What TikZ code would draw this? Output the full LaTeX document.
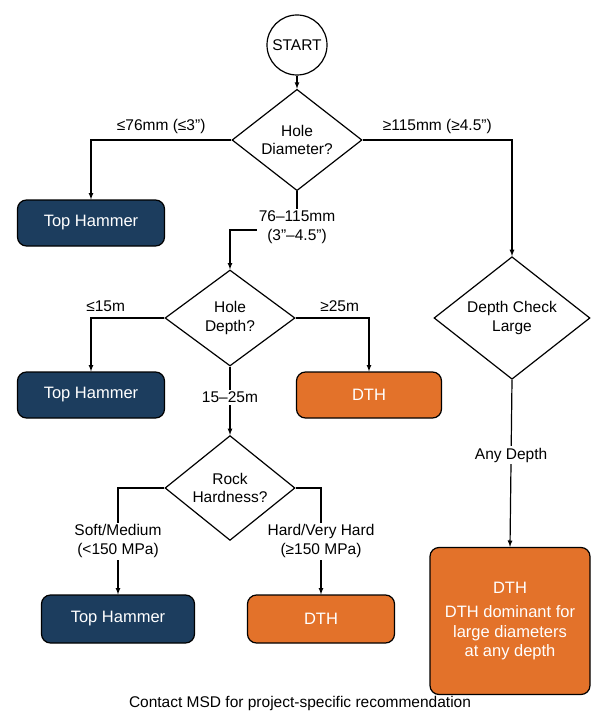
\documentclass[tikz,border=0pt]{standalone}
\usepackage{fontspec}
\setmainfont{Liberation Sans}
\usetikzlibrary{positioning,shapes.geometric}
\definecolor{navy}{HTML}{1C3D5E}
\definecolor{burnt}{HTML}{E3722A}
\tikzset{
  every node/.style={font=\fontsize{15.5}{18.5}\selectfont},
  dec/.style={diamond,draw,line width=1.2pt,inner sep=0pt,align=center},
  topbox/.style={rectangle,rounded corners=9pt,draw=black,line width=1.2pt,fill=navy,text=white,minimum width=147pt,minimum height=46pt,font=\fontsize{16.5}{19}\selectfont},
  dthbox/.style={rectangle,rounded corners=9pt,draw=black,line width=1.2pt,fill=burnt,text=white,minimum width=145pt,minimum height=46pt,font=\fontsize{16.5}{19.5}\selectfont},
  lbl/.style={fill=white,inner sep=2pt,align=center},
  arr/.style={-latex,line width=1.2pt},
}
\begin{document}
\begin{tikzpicture}[x=1pt,y=-1pt]
  \useasboundingbox[fill=white] (0,0) rectangle (600,722);
  \node[circle,draw,line width=1.2pt,minimum size=60pt,inner sep=0pt] (start) at (297,45) {START};
  \node[dec,minimum width=130pt,minimum height=100pt] (dia) at (297,140) {Hole\\Diameter?};
  \node[topbox] (th1) at (91,223) {Top Hammer};
  \node[dec,minimum width=130pt,minimum height=96pt] (depth) at (230,318) {Hole\\Depth?};
  \node[topbox] (th2) at (91,395) {Top Hammer};
  \node[dthbox] (dth1) at (369,395) {DTH};
  \node[dec,minimum width=130pt,minimum height=96pt] (rock) at (230,488) {Rock\\Hardness?};
  \node[topbox,minimum width=153pt,minimum height=48pt] (th3) at (118,619) {Top Hammer};
  \node[dthbox,minimum width=147pt,minimum height=48pt] (dth2) at (321,619) {DTH};
  \node[dec,minimum width=156pt,minimum height=100pt] (large) at (512,318) {Depth Check\\Large};
  \node[dthbox,minimum width=160pt,minimum height=147pt,align=center] (dth3) at (510,621)
    {DTH\\[5pt]DTH dominant for\\large diameters\\at any depth};
  \node (note) at (300,703) {Contact MSD for project-specific recommendation};

  %start>diameter
  \draw[arr] (start) -- (dia);
  \draw[arr] (dia.west) -| node[pos=0.25,above=2pt] {≤76mm (≤3”)} (th1.north);
  \draw[arr] (dia.east) -| node[pos=0.25,above=2pt] {≥115mm (≥4.5”)} (large.north);
  \draw[arr] (dia.south) |- (230,230) -- (depth.north);
  \node[lbl] (mid) at (297,227) {76–115mm\\(3”–4.5”)};

  %depth
  \draw[arr] (depth.west) -| node[pos=0.4,above=2pt] {≤15m} (th2.north);
  \draw[arr] (depth.east) -| node[pos=0.3,above=2pt] {≥25m} (dth1.north);
  \draw[arr] (depth.south) -- node[lbl,pos=0.45] {15–25m} (rock.north);

  %rock
  \draw[arr] (rock.west) -| node[lbl,pos=0.75] {Soft/Medium\\(<150 MPa)} (th3.north);
  \draw[arr] (rock.east) -| node[lbl,pos=0.75] {Hard/Very Hard\\(≥150 MPa)} (dth2.north);

  %large
  \draw[arr] (large.south) -- node[lbl,pos=0.45] {Any Depth} (dth3.north);
\end{tikzpicture}
\end{document}
